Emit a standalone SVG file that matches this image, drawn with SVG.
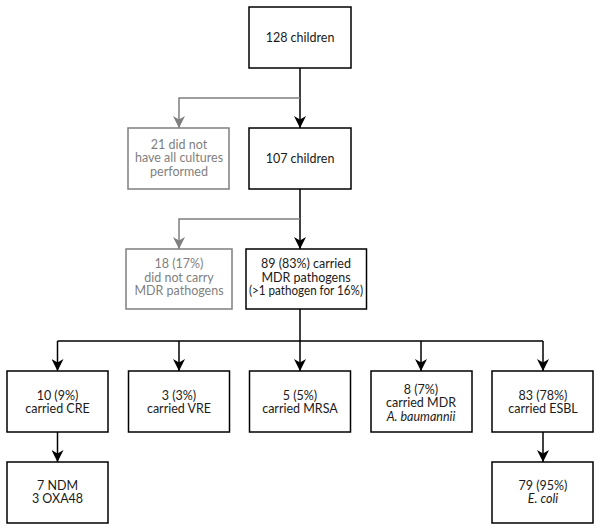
<svg xmlns="http://www.w3.org/2000/svg" width="600" height="530" viewBox="0 0 600 530">
<style>
.box{fill:#fff;stroke:#000;stroke-width:1.5}
.gbox{fill:#fff;stroke:#7f7f7f;stroke-width:1.5}
text{font-family:Lato,"Liberation Sans",sans-serif;font-size:12.5px;text-anchor:middle;fill:#1a1a1a}
.g text{fill:#7f7f7f}
.ln{fill:none;stroke:#000;stroke-width:1.5}
.gln{fill:none;stroke:#7f7f7f;stroke-width:1.5}
</style>
<defs>
<marker id="ab" markerUnits="userSpaceOnUse" markerWidth="12" markerHeight="12" refX="10" refY="5" orient="auto" viewBox="0 0 10 10"><path d="M0,0 L10,5 L0,10 L3,5 Z" fill="#000"/></marker>
<marker id="ag" markerUnits="userSpaceOnUse" markerWidth="12" markerHeight="12" refX="10" refY="5" orient="auto" viewBox="0 0 10 10"><path d="M0,0 L10,5 L0,10 L3,5 Z" fill="#7f7f7f"/></marker>
</defs>
<g id="connectors">
<path class="ln" d="M300,68 V128" marker-end="url(#ab)"/>
<path class="gln" d="M300,98 H179 V128" marker-end="url(#ag)"/>
<path class="ln" d="M300,189 V249" marker-end="url(#ab)"/>
<path class="gln" d="M300,219 H179 V249" marker-end="url(#ag)"/>
<path class="ln" d="M300,309 V371" marker-end="url(#ab)"/>
<path class="ln" d="M57.5,341 H543"/>
<path class="ln" d="M57.5,341 V371" marker-end="url(#ab)"/>
<path class="ln" d="M179,341 V371" marker-end="url(#ab)"/>
<path class="ln" d="M421,341 V371" marker-end="url(#ab)"/>
<path class="ln" d="M543,341 V371" marker-end="url(#ab)"/>
<path class="ln" d="M57.5,432 V462" marker-end="url(#ab)"/>
<path class="ln" d="M543,432 V462" marker-end="url(#ab)"/>
</g>
<g id="n128"><rect class="box" x="249" y="7" width="102" height="61"/><text x="300" y="42">128 children</text></g>
<g id="n21" class="g"><rect class="gbox" x="128" y="128" width="101" height="61"/><text x="179" y="148.5">21 did not</text><text x="179" y="162">have all cultures</text><text x="179" y="175.5">performed</text></g>
<g id="n107"><rect class="box" x="249" y="128" width="102" height="61"/><text x="300" y="163">107 children</text></g>
<g id="n18" class="g"><rect class="gbox" x="126" y="249" width="106" height="60"/><text x="179" y="268">18 (17%)</text><text x="179" y="281.5">did not carry</text><text x="179" y="295">MDR pathogens</text></g>
<g id="n89"><rect class="box" x="246" y="249" width="120.5" height="60"/><text x="306" y="268">89 (83%) carried</text><text x="306" y="281.5">MDR pathogens</text><text x="306" y="295" textLength="114" lengthAdjust="spacingAndGlyphs">(&gt;1 pathogen for 16%)</text></g>
<g id="ncre"><rect class="box" x="7" y="371" width="101" height="61"/><text x="57.5" y="399.5">10 (9%)</text><text x="57.5" y="413">carried CRE</text></g>
<g id="nvre"><rect class="box" x="128.5" y="371" width="101" height="61"/><text x="179" y="399.5">3 (3%)</text><text x="179" y="413">carried VRE</text></g>
<g id="nmrsa"><rect class="box" x="249.5" y="371" width="101" height="61"/><text x="300" y="399.5">5 (5%)</text><text x="300" y="413">carried MRSA</text></g>
<g id="nab"><rect class="box" x="371" y="371" width="101" height="61"/><text x="421" y="393.5">8 (7%)</text><text x="421" y="407">carried MDR</text><text x="421" y="420.5" font-style="italic">A. baumannii</text></g>
<g id="nesbl"><rect class="box" x="492" y="371" width="101" height="61"/><text x="543" y="399.5">83 (78%)</text><text x="543" y="413">carried ESBL</text></g>
<g id="nndm"><rect class="box" x="7" y="462" width="101" height="61"/><text x="57.5" y="489.5">7 NDM</text><text x="57.5" y="503">3 OXA48</text></g>
<g id="necoli"><rect class="box" x="492" y="462" width="101" height="61"/><text x="543" y="489.5">79 (95%)</text><text x="543" y="503" font-style="italic">E. coli</text></g>
</svg>
